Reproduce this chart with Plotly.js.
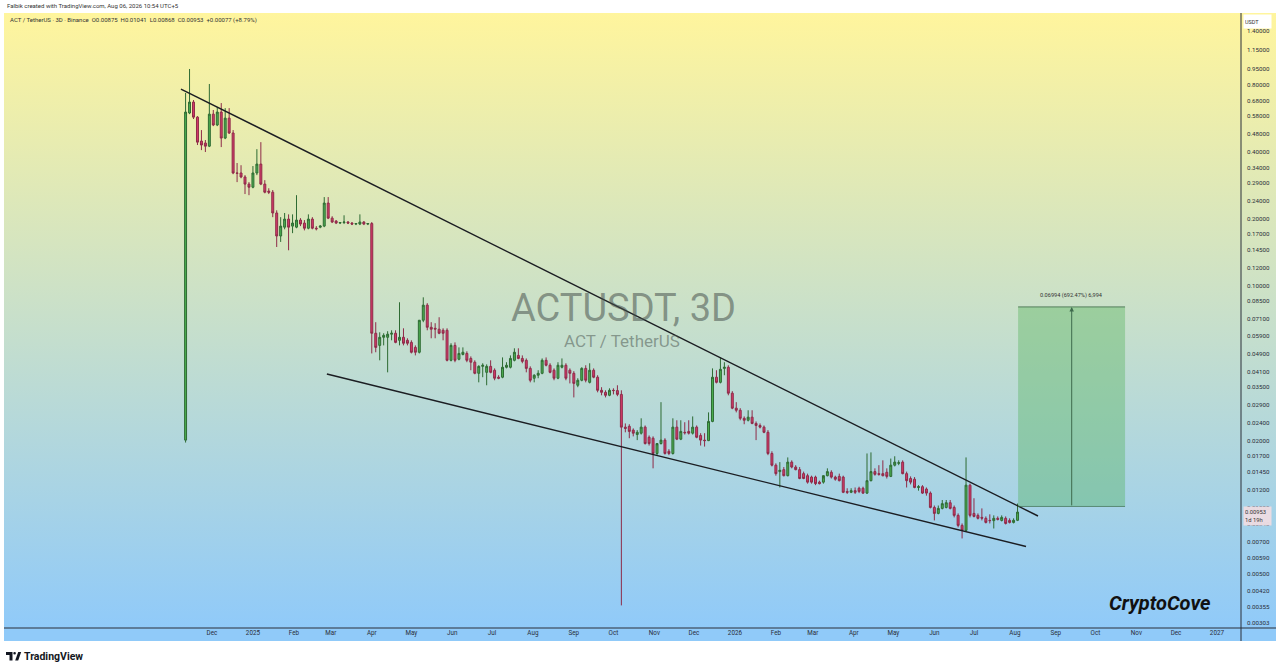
<!DOCTYPE html>
<html><head><meta charset="utf-8">
<script src="https://cdn.plot.ly/plotly-3.0.1.min.js"></script>
<style>
html,body{margin:0;padding:0;background:#fff;}
#chart{width:1280px;height:671px;
background:
 linear-gradient(#90CAF9,#90CAF9) 4px 628px/1272px 13px no-repeat,
 linear-gradient(to bottom,#FFF59D,#90CAF9) 4px 13px/1272px 615px no-repeat,
 #ffffff;}
</style></head><body><div id="chart"></div>
<script>
// ---- data (ACT / TetherUS, 3D candles) ----
const firstCandle = '2024-11-11';
const candleStepDays = 3;
const open = [0.0201,0.598,0.670,0.573,0.447,0.438,0.424,0.591,0.528,0.604,0.461,0.567,0.486,0.321,0.321,0.308,0.286,0.277,0.321,0.352,
0.286,0.266,0.263,0.212,0.167,0.183,0.199,0.185,0.183,0.197,0.191,0.181,0.199,0.181,0.183,0.185,0.235,0.201,0.195,0.191,
0.192,0.193,0.191,0.189,0.189,0.193,0.189,0.190,0.0609,0.0537,0.0584,0.0584,0.0603,0.0609,0.0566,0.0584,0.0566,0.0554,0.0526,0.0500,
0.0697,0.0815,0.0648,0.0641,0.0635,0.0628,0.0628,0.0460,0.0537,0.0465,0.0489,0.0494,0.0469,0.0451,0.0402,0.0432,0.0406,0.0432,0.0415,0.0386,
0.0386,0.0428,0.0428,0.0460,0.0484,0.0469,0.0460,0.0423,0.0382,0.0394,0.0402,0.0460,0.0437,0.0415,0.0382,0.0428,0.0437,0.0415,0.0402,0.0355,
0.0374,0.0423,0.0366,0.0415,0.0386,0.0337,0.0330,0.0320,0.0337,0.0336,0.0323,0.0230,0.0232,0.0223,0.0213,0.0216,0.0230,0.0207,0.0205,0.0175,
0.0194,0.0201,0.0179,0.0175,0.0230,0.0203,0.0218,0.0220,0.0216,0.0230,0.0211,0.0201,0.0200,0.0244,0.0386,0.0366,0.0423,0.0428,0.0327,0.0280,
0.0274,0.0252,0.0247,0.0255,0.0239,0.0234,0.0230,0.0218,0.0175,0.0155,0.0145,0.0148,0.0139,0.0160,0.0152,0.0148,0.0142,0.0139,0.0137,0.0137,
0.0130,0.0130,0.0139,0.0144,0.0137,0.0138,0.0137,0.0118,0.0117,0.0119,0.0122,0.0122,0.0116,0.0132,0.0145,0.0142,0.0142,0.0144,0.0138,0.0155,
0.0158,0.0160,0.0142,0.0135,0.0134,0.0123,0.0124,0.0121,0.0116,0.0100,0.00940,0.00990,0.0100,0.0105,0.0100,0.00921,0.00830,0.00788,0.0126,0.00940,
0.00921,0.00902,0.00893,0.00874,0.00872,0.00893,0.00874,0.00893,0.00874,0.00856,0.00875];
const high = [0.736,0.944,0.684,0.579,0.501,0.452,0.808,0.617,0.636,0.663,0.629,0.629,0.501,0.356,0.348,0.314,0.292,0.345,0.411,0.442,
0.298,0.274,0.269,0.218,0.203,0.212,0.209,0.209,0.255,0.201,0.197,0.209,0.203,0.185,0.187,0.250,0.250,0.205,0.197,0.193,
0.207,0.195,0.193,0.191,0.209,0.195,0.191,0.193,0.0683,0.0615,0.0609,0.0622,0.0628,0.0628,0.0840,0.0641,0.0578,0.0566,0.0537,0.0697,
0.0884,0.0832,0.0683,0.0676,0.0719,0.0641,0.0641,0.0549,0.0554,0.0526,0.0526,0.0505,0.0479,0.0460,0.0437,0.0446,0.0441,0.0460,0.0423,0.0394,
0.0474,0.0451,0.0484,0.0521,0.0521,0.0484,0.0469,0.0432,0.0398,0.0415,0.0469,0.0474,0.0446,0.0423,0.0451,0.0469,0.0446,0.0423,0.0411,0.0382,
0.0428,0.0437,0.0446,0.0423,0.0394,0.0348,0.0337,0.0344,0.0344,0.0355,0.0337,0.0239,0.0237,0.0227,0.0223,0.0252,0.0234,0.0211,0.0209,0.0190,
0.0298,0.0205,0.0183,0.0252,0.0247,0.0247,0.0242,0.0247,0.0257,0.0234,0.0216,0.0216,0.0268,0.0423,0.0415,0.0474,0.0451,0.0437,0.0334,0.0298,
0.0280,0.0257,0.0274,0.0274,0.0244,0.0239,0.0234,0.0223,0.0179,0.0158,0.0160,0.0152,0.0168,0.0163,0.0155,0.0152,0.0145,0.0142,0.0139,0.0139,
0.0132,0.0135,0.0150,0.0147,0.0139,0.0142,0.0139,0.0122,0.0122,0.0123,0.0124,0.0124,0.0175,0.0177,0.0150,0.0155,0.0163,0.0150,0.0166,0.0170,
0.0163,0.0163,0.0145,0.0138,0.0137,0.0126,0.0126,0.0123,0.0118,0.0102,0.0102,0.0108,0.0108,0.0108,0.0102,0.00940,0.00847,0.0168,0.0128,0.0110,
0.00940,0.00990,0.00911,0.00931,0.00921,0.00911,0.00921,0.00911,0.00893,0.00893,0.01041];
const low = [0.0196,0.591,0.562,0.429,0.407,0.399,0.420,0.522,0.522,0.420,0.456,0.481,0.317,0.292,0.304,0.258,0.255,0.274,0.314,0.283,
0.260,0.258,0.203,0.149,0.157,0.179,0.144,0.172,0.181,0.185,0.177,0.179,0.179,0.177,0.181,0.183,0.199,0.191,0.189,0.189,
0.189,0.189,0.187,0.187,0.187,0.187,0.187,0.0494,0.0500,0.0460,0.0537,0.0406,0.0566,0.0549,0.0537,0.0537,0.0537,0.0494,0.0484,0.0494,
0.0683,0.0628,0.0578,0.0578,0.0603,0.0566,0.0455,0.0455,0.0451,0.0460,0.0484,0.0451,0.0415,0.0398,0.0366,0.0386,0.0355,0.0402,0.0374,0.0378,
0.0382,0.0423,0.0423,0.0455,0.0465,0.0446,0.0406,0.0366,0.0366,0.0382,0.0398,0.0432,0.0402,0.0374,0.0378,0.0423,0.0374,0.0362,0.0313,0.0348,
0.0370,0.0366,0.0362,0.0382,0.0330,0.0320,0.0313,0.0317,0.0323,0.0317,0.00362,0.0218,0.0205,0.0209,0.0201,0.0213,0.0192,0.0190,0.0150,0.0172,
0.0192,0.0173,0.0172,0.0173,0.0201,0.0201,0.0213,0.0213,0.0213,0.0205,0.0190,0.0188,0.0199,0.0242,0.0362,0.0362,0.0394,0.0320,0.0277,0.0268,
0.0247,0.0237,0.0244,0.0237,0.0201,0.0227,0.0216,0.0172,0.0153,0.0139,0.0123,0.0138,0.0138,0.0150,0.0147,0.0134,0.0134,0.0128,0.0128,0.0126,
0.0127,0.0128,0.0138,0.0135,0.0132,0.0131,0.0116,0.0115,0.0116,0.0115,0.0116,0.0115,0.0115,0.0131,0.0139,0.0139,0.0138,0.0135,0.0137,0.0153,
0.0155,0.0141,0.0123,0.0127,0.0122,0.0119,0.0115,0.0113,0.00990,0.00874,0.00931,0.00980,0.00990,0.00980,0.00902,0.00813,0.00725,0.00780,0.00902,0.00902,
0.00883,0.00874,0.00847,0.00847,0.00804,0.00874,0.00865,0.00838,0.00847,0.00847,0.00868];
const close = [0.604,0.670,0.573,0.442,0.429,0.424,0.591,0.528,0.604,0.461,0.567,0.486,0.321,0.320,0.308,0.286,0.277,0.321,0.352,0.286,
0.263,0.263,0.212,0.167,0.185,0.199,0.183,0.191,0.197,0.189,0.181,0.199,0.181,0.180,0.185,0.235,0.201,0.193,0.191,0.192,
0.193,0.191,0.189,0.190,0.193,0.189,0.190,0.0609,0.0526,0.0584,0.0596,0.0603,0.0609,0.0554,0.0584,0.0549,0.0549,0.0500,0.0500,0.0697,
0.0815,0.0648,0.0635,0.0636,0.0609,0.0609,0.0460,0.0537,0.0460,0.0494,0.0500,0.0460,0.0451,0.0402,0.0432,0.0437,0.0432,0.0406,0.0382,0.0382,
0.0428,0.0437,0.0469,0.0500,0.0469,0.0455,0.0423,0.0374,0.0394,0.0402,0.0460,0.0437,0.0406,0.0382,0.0437,0.0437,0.0382,0.0402,0.0362,0.0374,
0.0423,0.0374,0.0415,0.0386,0.0337,0.0330,0.0320,0.0337,0.0336,0.0323,0.0230,0.0227,0.0220,0.0216,0.0218,0.0230,0.0194,0.0194,0.0175,0.0194,
0.0201,0.0175,0.0175,0.0230,0.0203,0.0220,0.0217,0.0216,0.0230,0.0207,0.0201,0.0200,0.0244,0.0386,0.0366,0.0419,0.0428,0.0327,0.0280,0.0274,
0.0252,0.0247,0.0255,0.0239,0.0234,0.0230,0.0218,0.0175,0.0155,0.0142,0.0147,0.0139,0.0160,0.0152,0.0148,0.0135,0.0135,0.0130,0.0130,0.0128,
0.0128,0.0139,0.0145,0.0137,0.0134,0.0132,0.0117,0.0117,0.0119,0.0117,0.0118,0.0116,0.0132,0.0145,0.0141,0.0141,0.0139,0.0138,0.0155,0.0160,
0.0159,0.0142,0.0132,0.0130,0.0123,0.0124,0.0116,0.0116,0.0100,0.00940,0.00990,0.0104,0.0105,0.00990,0.00921,0.00830,0.00788,0.0126,0.00921,0.00911,
0.00893,0.00895,0.00856,0.00872,0.00893,0.00884,0.00902,0.00847,0.00856,0.00875,0.00953];

// falling wedge trendlines (drawn on chart)
const upperLineX = ['2024-11-07 12:00', '2026-08-18 12:00'];
const upperLineY = [0.767, 0.00915];
const lowerLineX = ['2025-02-26 00:00', '2026-08-09 10:00'];
const lowerLineY = [0.0399, 0.00667];

// price-range projection box
const boxX = ['2026-08-03 10:00', '2026-10-23 10:00'];
const boxMidX = '2026-09-13 00:00';
const boxLow = 0.0101;
const boxHigh = 0.08004;
const boxLabel = '0.06994 (692.47%) 6,994';

// axes
const yTickVals = [1.4,1.15,0.95,0.8,0.68,0.58,0.48,0.4,0.34,0.29,0.24,0.2,0.17,0.145,0.12,0.1,0.085,0.071,0.059,0.049,0.041,0.035,0.029,0.024,0.02,0.017,0.0145,0.012,0.01,0.0084,0.007,0.0059,0.005,0.0042,0.00355,0.00303];
const yTickText = yTickVals.map(v => v.toFixed(5));
const xTickVals = ['2024-12-01','2025-01-01','2025-02-01','2025-03-01','2025-04-01','2025-05-01','2025-06-01','2025-07-01','2025-08-01','2025-09-01','2025-10-01','2025-11-01','2025-12-01',
'2026-01-01','2026-02-01','2026-03-01','2026-04-01','2026-05-01','2026-06-01','2026-07-01','2026-08-01','2026-09-01','2026-10-01','2026-11-01','2026-12-01','2027-01-01'];
const xTickText = ['Dec','2025','Feb','Mar','Apr','May','Jun','Jul','Aug','Sep','Oct','Nov','Dec','2026','Feb','Mar','Apr','May','Jun','Jul','Aug','Sep','Oct','Nov','Dec','2027'];

// dates of candles
const startMs = Date.parse(firstCandle + 'T00:00:00Z');
const dates = open.map((_, i) => new Date(startMs + i * candleStepDays * 86400000).toISOString().slice(0, 10));

// ---- layout helpers (pixel -> paper) ----
const PL = 4, PR = 1241, PT = 13, PB = 628;
const px = X => (X - PL) / (PR - PL);
const py = Y => (PB - Y) / (PB - PT);
const FONT = 'Roboto, "DejaVu Sans", sans-serif';
const TXT = '#2a2e39';

const traces = [
  {
    type: 'candlestick', x: dates, open: open, high: high, low: low, close: close,
    increasing: {fillcolor: '#4caf50', line: {color: '#2e6b33', width: 1}},
    decreasing: {fillcolor: '#d63a6a', line: {color: '#8e2b48', width: 1}},
    whiskerwidth: 0, hoverinfo: 'skip', showlegend: false
  },
  {type: 'scatter', mode: 'lines', x: upperLineX, y: upperLineY, line: {color: '#1b1d22', width: 1.4}, hoverinfo: 'skip', showlegend: false},
  {type: 'scatter', mode: 'lines', x: lowerLineX, y: lowerLineY, line: {color: '#1b1d22', width: 1.4}, hoverinfo: 'skip', showlegend: false},
  {type: 'scatter', mode: 'lines', x: [boxX[0], boxX[1], boxX[1], boxX[0], boxX[0]], y: [boxLow, boxLow, boxHigh, boxHigh, boxLow],
   fill: 'toself', fillcolor: 'rgba(76,175,80,0.36)', line: {width: 0}, hoverinfo: 'skip', showlegend: false},
  {type: 'scatter', mode: 'lines', x: boxX, y: [boxHigh, boxHigh], line: {color: 'rgba(50,95,60,0.75)', width: 1}, hoverinfo: 'skip', showlegend: false},
  {type: 'scatter', mode: 'lines', x: boxX, y: [boxLow, boxLow], line: {color: 'rgba(50,95,60,0.6)', width: 1}, hoverinfo: 'skip', showlegend: false}
];

function pathFrom(pts) {
  return 'M' + pts.map(p => px(p[0]).toFixed(5) + ',' + py(p[1]).toFixed(5)).join(' L') + ' Z';
}

const shapes = [
  {type: 'line', xref: 'paper', yref: 'paper', x0: 1, x1: 1, y0: py(641), y1: py(13), line: {color: '#2a2e39', width: 1}},
  {type: 'line', xref: 'paper', yref: 'paper', x0: px(4), x1: px(1276), y0: 0, y1: 0, line: {color: '#2a2e39', width: 1}},
  // TradingView logo (footer)
  {type: 'path', xref: 'paper', yref: 'paper', path: pathFrom([[6,652],[12.5,652],[12.5,660.5],[9.5,660.5],[9.5,655],[6,655]]), fillcolor: '#131722', line: {width: 0}},
  {type: 'circle', xref: 'paper', yref: 'paper', x0: px(13.3), x1: px(15.9), y0: py(652), y1: py(654.6), fillcolor: '#131722', line: {width: 0}},
  {type: 'path', xref: 'paper', yref: 'paper', path: pathFrom([[15.2,660.5],[18.2,652],[21.2,652],[18.2,660.5]]), fillcolor: '#131722', line: {width: 0}}
];

const annotations = [
  {xref: 'paper', yref: 'paper', x: px(5), y: py(6), xanchor: 'left', yanchor: 'middle', showarrow: false,
   text: 'Falbik created with TradingView.com, Aug 06, 2026 10:54 UTC+5', font: {family: FONT, size: 6, color: '#333'}},
  {xref: 'paper', yref: 'paper', x: px(8), y: py(20), xanchor: 'left', yanchor: 'middle', showarrow: false,
   text: 'ACT / TetherUS · 3D · Binance  O0.00875  H0.01041  L0.00868  C0.00953  +0.00077 (+8.79%)', font: {family: FONT, size: 6, color: '#333'}},
  {xref: 'paper', yref: 'paper', x: px(623), y: py(308), xanchor: 'center', yanchor: 'middle', showarrow: false,
   text: 'ACTUSDT, 3D', font: {family: FONT, size: 38, color: 'rgba(70,80,75,0.55)'}},
  {xref: 'paper', yref: 'paper', x: px(622), y: py(341), xanchor: 'center', yanchor: 'middle', showarrow: false,
   text: 'ACT / TetherUS', font: {family: FONT, size: 17, color: 'rgba(70,80,75,0.5)'}},
  {xref: 'paper', yref: 'paper', x: px(1243), y: py(21), xanchor: 'left', yanchor: 'middle', showarrow: false,
   text: 'USDT', width: 25, height: 11, align: 'left', bgcolor: '#ffffff', font: {family: FONT, size: 5.5, color: '#333'}},
  {xref: 'paper', yref: 'paper', x: px(1243), y: py(516), xanchor: 'left', yanchor: 'middle', showarrow: false,
   text: '0.00953<br>1d 19h', width: 25, height: 16, align: 'left', bgcolor: 'rgba(236,220,226,0.97)', font: {family: FONT, size: 5.8, color: '#333'}},
  {xref: 'x', yref: 'y', x: boxMidX, y: Math.log10(boxHigh), xanchor: 'center', yanchor: 'bottom', yshift: 6, showarrow: false,
   text: boxLabel, font: {family: FONT, size: 5.6, color: '#333'}},
  {xref: 'x', yref: 'y', x: boxMidX, y: Math.log10(boxHigh), ax: 0, ay: 200, axref: 'pixel', ayref: 'pixel', text: '',
   showarrow: true, arrowhead: 2, arrowsize: 0.9, arrowwidth: 1, arrowcolor: '#3e6b4d'},
  {xref: 'paper', yref: 'paper', x: px(1160), y: py(603), xanchor: 'center', yanchor: 'middle', showarrow: false,
   text: '<b><i>CryptoCove</i></b>', font: {family: FONT, size: 20, color: '#111111'}},
  {xref: 'paper', yref: 'paper', x: px(22), y: py(656.5), xanchor: 'left', yanchor: 'middle', showarrow: false,
   text: '<b>TradingView</b>', font: {family: FONT, size: 10.5, color: '#131722'}}
];

const layout = {
  width: 1280, height: 671,
  margin: {l: PL, r: 1280 - PR, t: PT, b: 671 - PB, pad: 0},
  paper_bgcolor: 'rgba(0,0,0,0)', plot_bgcolor: 'rgba(0,0,0,0)',
  showlegend: false, hovermode: false,
  xaxis: {
    type: 'date', range: ['2024-06-26 12:00', '2027-01-19 05:00'],
    rangeslider: {visible: false}, showgrid: false, zeroline: false, showline: false,
    tickmode: 'array', tickvals: xTickVals, ticktext: xTickText, ticks: '',
    tickfont: {family: FONT, size: 6.3, color: TXT}, fixedrange: true
  },
  yaxis: {
    type: 'log', side: 'right', range: [-2.5431, 0.2272],
    showgrid: false, zeroline: false, showline: false,
    tickmode: 'array', tickvals: yTickVals, ticktext: yTickText, ticks: '', ticklabelstandoff: 5,
    tickfont: {family: FONT, size: 6.2, color: TXT}, fixedrange: true
  },
  shapes: shapes,
  annotations: annotations
};

Plotly.newPlot('chart', traces, layout, {displayModeBar: false, staticPlot: true});
</script></body></html>
